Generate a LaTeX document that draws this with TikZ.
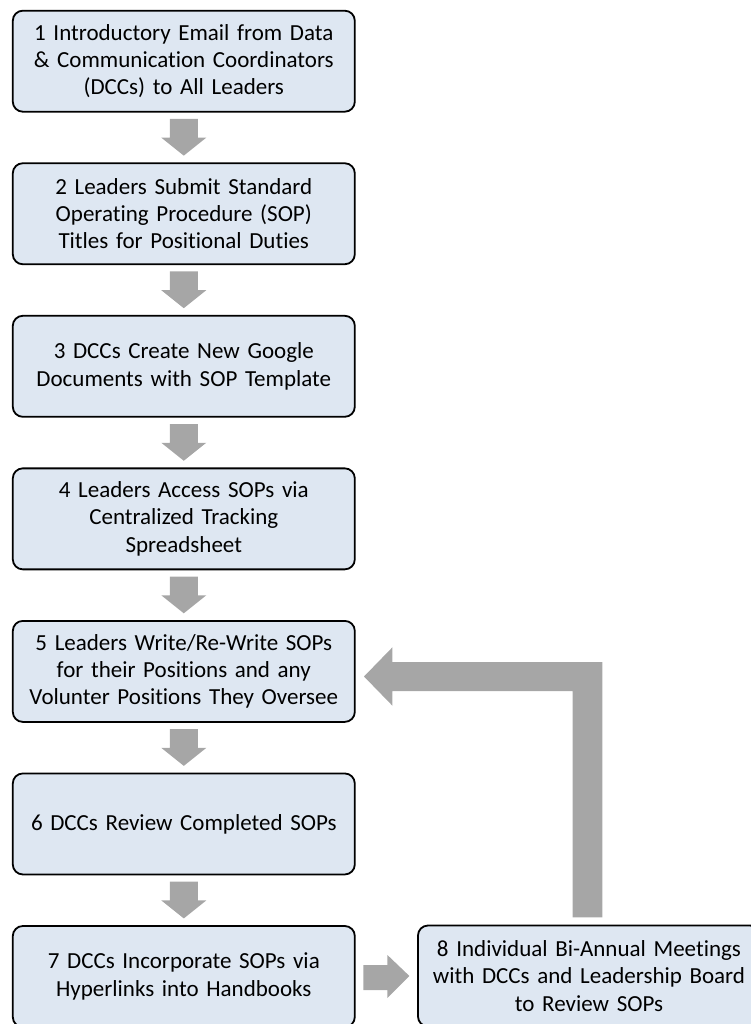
\documentclass[tikz,border=0pt]{standalone}
\usepackage{fontspec}
\setmainfont[Ligatures=NoCommon]{Carlito}
\usetikzlibrary{calc}
\definecolor{boxfill}{HTML}{DEE7F2}
\definecolor{arrgray}{HTML}{A6A6A6}
\tikzset{
  stepbox/.style={draw=black, line width=1.8pt, fill=boxfill, rounded corners=10pt,
    minimum width=342pt, minimum height=101pt, text width=336pt, align=center,
    inner sep=0pt, font=\fontsize{23pt}{27.3pt}\selectfont},
  arr/.style={fill=arrgray, draw=none}
}
\newcommand\dnblock[2]{%
  \fill[arr] ($(#1.south)+(-14,6.3)$) -- ($(#1.south)+(14,6.3)$) --
    ($(#2.north)+(14,-24.7)$) -- ($(#2.north)+(22.5,-24.7)$) --
    ($(#2.north)+(0,-6.7)$) -- ($(#2.north)+(-22.5,-24.7)$) --
    ($(#2.north)+(-14,-24.7)$) -- cycle;}
\begin{document}
\begin{tikzpicture}[x=1pt,y=-1pt]
\useasboundingbox (0,0) rectangle (751,1024);
\clip (0,0) rectangle (751,1024);
\node[stepbox] (b1) at (183.8,61.2) {1 Introductory Email from Data\\ \& Communication Coordinators\\ (DCCs) to All Leaders};
\node[stepbox] (b2) at (183.8,213.75) {2 Leaders Submit Standard\\ Operating Procedure (SOP)\\ Titles for Positional Duties};
\node[stepbox] (b3) at (183.8,366.3) {3 DCCs Create New Google\\ Documents with SOP Template};
\node[stepbox] (b4) at (183.8,518.85) {4 Leaders Access SOPs via\\ Centralized Tracking\\ Spreadsheet};
\node[stepbox] (b5) at (183.8,671.4) {5 Leaders Write/Re-Write SOPs\\ for their Positions and any\\ Volunter Positions They Oversee};
\node[stepbox] (b6) at (183.8,823.95) {6 DCCs Review Completed SOPs};
\node[stepbox] (b7) at (183.8,976.5) {7 DCCs Incorporate SOPs via\\ Hyperlinks into Handbooks};
\node[stepbox] (b8) at (589,976) {8 Individual Bi-Annual Meetings\\ with DCCs and Leadership Board\\ to Review SOPs};
\dnblock{b1}{b2}
\dnblock{b2}{b3}
\dnblock{b3}{b4}
\dnblock{b4}{b5}
\dnblock{b5}{b6}
\dnblock{b6}{b7}
% right arrow 7 -> 8
\fill[arr] ($(b7.east)+(7.7,-11.5)$) -- ($(b7.east)+(31.7,-11.5)$) --
  ($(b7.east)+(31.7,-21.5)$) -- ($(b8.west)+(-7.7,0)$) --
  ($(b7.east)+(31.7,21.5)$) -- ($(b7.east)+(31.7,13.5)$) --
  ($(b7.east)+(7.7,13.5)$) -- cycle;
% feedback arrow 8 -> 5
\coordinate (fbtip) at ($(b5.east)+(8.3,5.1)$);
\coordinate (fbstart) at ($(b8.north)+(-1.5,-7.3)$);
\coordinate (fbR) at ($(fbstart)+(14.8,0)$);
\coordinate (fbL) at ($(fbstart)+(-14.8,0)$);
\coordinate (fbtop) at ($(fbtip)+(0,-14.5)$);
\coordinate (fbbot) at ($(fbtip)+(0,14.5)$);
\fill[arr] (fbtip) -- ++(28.4,-29.2) -- ++(0,14.7) -- (fbR |- fbtop) -- (fbR) --
  (fbL) -- (fbL |- fbbot) -- ($(fbtip)+(28.4,14.5)$) -- ++(0,14.7) -- cycle;
\end{tikzpicture}
\end{document}
